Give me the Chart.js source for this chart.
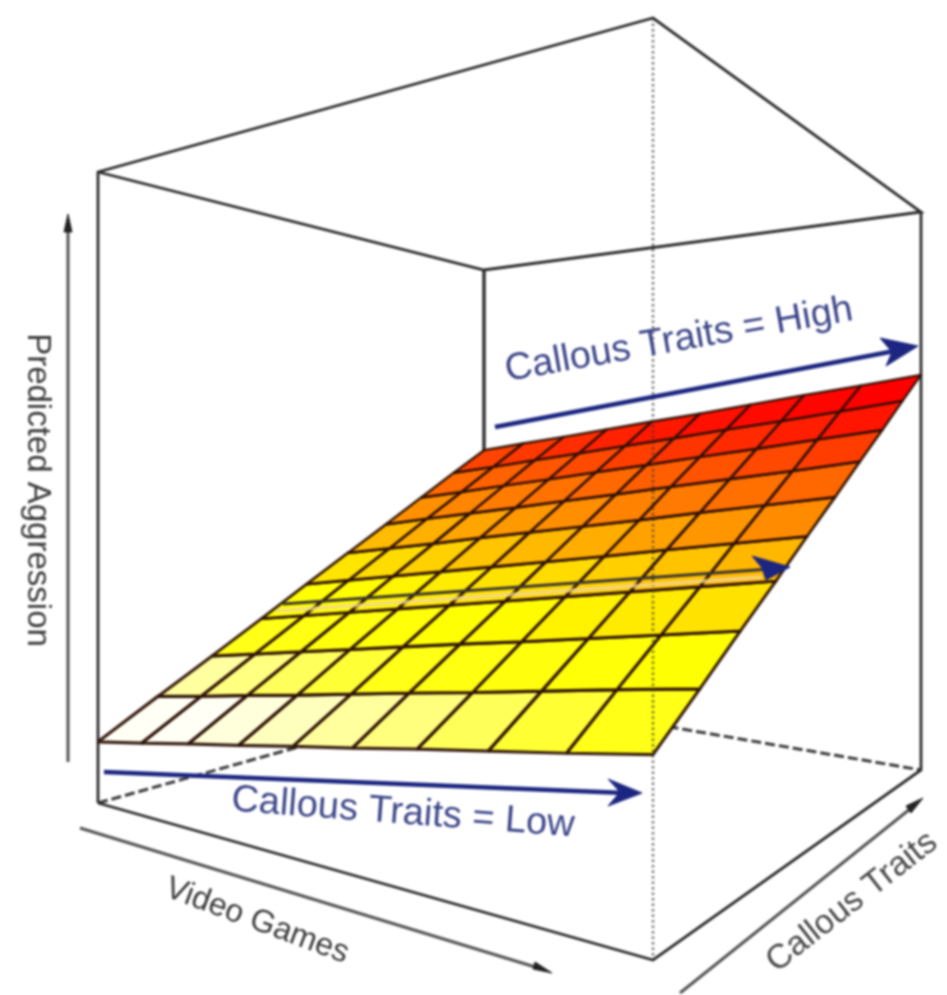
<!DOCTYPE html>
<html>
<head>
<meta charset="utf-8">
<title>Predicted Aggression surface</title>
<script src="https://cdn.jsdelivr.net/npm/chart.js@4/dist/chart.umd.js"></script>
<style>
html,body{margin:0;padding:0;background:#fff;width:947px;height:995px;overflow:hidden}
canvas{display:block;filter:blur(1px)}
</style>
</head>
<body>
<canvas id="c" width="947" height="995"></canvas>
<script>
// ---- data: predicted aggression (share of box height) by callous traits (rows) and video games (columns)
const videoGames = [0,1,2,3,4,5,6,7,8,9];
const callousTraits = [0,1,2,3,4,5,6,7,8,9];
const predictedAggression = [
 [.097,.110,.124,.137,.151,.164,.178,.191,.204,.218],
 [.150,.163,.177,.190,.204,.218,.231,.245,.259,.272],
 [.202,.216,.230,.244,.258,.272,.285,.299,.313,.327],
 [.255,.269,.283,.297,.311,.325,.339,.353,.367,.381],
 [.309,.323,.337,.351,.365,.379,.393,.408,.422,.436],
 [.362,.376,.390,.405,.419,.433,.447,.462,.476,.490],
 [.415,.430,.444,.458,.473,.487,.502,.516,.530,.545],
 [.469,.483,.498,.512,.527,.541,.556,.570,.585,.599],
 [.523,.537,.552,.566,.581,.595,.610,.624,.639,.654],
 [.576,.591,.605,.620,.635,.649,.664,.679,.693,.708]
];
const axisTitles = ["Video Games","Callous Traits","Predicted Aggression"];
const arrowLabels = ["Callous Traits = High","Callous Traits = Low"];

// ---- colour ramp of the surface
const rampStops = [.145,.17,.20,.235,.30,.36,.41,.46,.52,.56,.62,.67];
const rampColors = [[255,255,245],[255,255,190],[255,255,120],[255,255,24],[255,255,0],[255,218,0],
  [255,176,0],[255,136,0],[255,96,0],[255,64,0],[255,20,0],[255,0,0]];
function heat(z){
  if(z<=rampStops[0]) return 'rgb('+rampColors[0]+')';
  for(let i=1;i<rampStops.length;i++){
    if(z<=rampStops[i]){
      const t=(z-rampStops[i-1])/(rampStops[i]-rampStops[i-1]);
      const c=rampColors[i].map((v,k)=>Math.round(rampColors[i-1][k]+(v-rampColors[i-1][k])*t));
      return 'rgb('+c+')';
    }
  }
  return 'rgb('+rampColors[rampColors.length-1]+')';
}

// ---- perspective box: corners in order (low,low) (high,low) (high,high) (low,high)
const boxX = [98,653,921,484];
const boxBase = [803,960,770,695];
const boxTop = [172,18,212,270];
const boxW = [1,.6759,1.1447,1.4688];
function bil(c,u,v){return c[0]*(1-u)*(1-v)+c[1]*u*(1-v)+c[2]*u*v+c[3]*(1-u)*v;}
function project(u,v,z){
  const w=bil(boxW,u,v);
  const X=bil(boxX.map((x,i)=>x*boxW[i]),u,v)/w;
  const y0=bil(boxBase.map((y,i)=>y*boxW[i]),u,v);
  const y1=bil(boxTop.map((y,i)=>y*boxW[i]),u,v);
  return {x:X,y:(y0+(y1-y0)*z)/w};
}
const gu=i=>videoGames[i]/videoGames[videoGames.length-1];
const gv=j=>callousTraits[j]/callousTraits[callousTraits.length-1];
const sp=(i,j)=>project(gu(i),gv(j),predictedAggression[j][i]);

const datasets=[];
function line(data,o){
  datasets.push(Object.assign({data,showLine:true,pointRadius:0,pointHoverRadius:0,fill:false,tension:0,
    borderCapStyle:'butt',borderJoinStyle:'miter',borderColor:'#333',borderWidth:2,order:50},o));
}
const C=(u,v,z)=>project(u,v,z);

// hidden base edges, behind the surface
line([C(0,0,0),C(0,1,0),C(1,1,0)],{borderColor:'#3c3c3c',borderWidth:3,borderDash:[10,4],order:90});
// visible box edges
line([C(0,1,1),C(0,1,0)],{borderColor:'#333',borderWidth:3.5,order:90});
line([C(0,0,0),C(0,0,1),C(1,0,1),C(1,1,1),C(0,1,1),C(0,0,1)],{borderColor:'#2c2c2c',borderWidth:2.8,order:80});
line([C(1,1,1),C(1,1,0),C(1,0,0),C(0,0,0)],{borderColor:'#2c2c2c',borderWidth:2.8,order:80});

// surface cells
for(let j=0;j<callousTraits.length-1;j++){
  for(let i=0;i<videoGames.length-1;i++){
    const z=(predictedAggression[j][i]+predictedAggression[j][i+1]+predictedAggression[j+1][i]+predictedAggression[j+1][i+1])/4;
    const col=heat(z);
    line([sp(i,j),sp(i+1,j),sp(i+1,j+1),sp(i,j+1),sp(i,j)],{
      backgroundColor:col,fill:'shape',borderColor:'rgba(40,12,0,0.92)',
      borderWidth:3.2-1.0*gv(j),borderJoinStyle:'round',order:60-j});
  }
}

// front vertical, dotted and seen through the surface
line([C(1,0,1),C(1,0,0)],{borderColor:'rgba(50,50,50,0.65)',borderWidth:2.5,borderDash:[2.5,3],order:30});

// ---- overlay arrows
const navy='#1c2680';
function arrow(shaft,head,width,color){
  line(shaft,{borderColor:color,borderWidth:width,order:20});
  line(head.concat([head[0]]),{borderColor:navy,backgroundColor:navy,borderWidth:1,fill:'shape',order:10});
}
const P=(x,y)=>({x,y});
arrow([P(495,427),P(905,349)],[P(918,346),P(880,338),P(892,352),P(886,366)],4.5,navy);
arrow([P(104,772),P(625,793)],[P(642,793),P(608,779),P(620,792),P(608,806)],4.5,navy);
line([P(276,611),P(762,577)],{borderColor:'rgba(240,215,150,0.75)',borderWidth:4,order:22});
arrow([P(283,604),P(770,569)],[P(790,567),P(752,556),P(762,568),P(766,580)],3,'#3a3630');

// axis arrows
const grey='#555';
function axis(a,b,h){
  line([a,b],{borderColor:grey,borderWidth:3,order:25});
  line(h.concat([h[0]]),{borderColor:'#222',backgroundColor:'#222',borderWidth:1,fill:'shape',order:24});
}
axis(P(80,828),P(545,970),[P(552,973),P(535,962),P(533,969)]);
axis(P(680,993),P(915,805),[P(923,798),P(906,806),P(911,813)]);
axis(P(68,762),P(68,225),[P(68,214),P(64,232),P(72,232)]);

// ---- text labels: centre x, centre y, angle in degrees, size, colour
const labels=[
 {t:arrowLabels[0],x:679,y:340,a:-10,s:38,c:'#3c4688'},
 {t:arrowLabels[1],x:403,y:813,a:4.3,s:38,c:'#3c4688'},
 {t:axisTitles[0],x:257,y:921,a:20.5,s:32,c:'#3c3c3c'},
 {t:axisTitles[1],x:852,y:902,a:-38,s:34,c:'#4a4a4a'},
 {t:axisTitles[2],x:37,y:490,a:90,s:33,c:'#3c3c3c'}
];
const textPlugin={id:'labels',afterDatasetsDraw(chart){
  const ctx=chart.ctx,sx=chart.scales.x,sy=chart.scales.y;
  labels.forEach(l=>{
    ctx.save();
    ctx.translate(sx.getPixelForValue(l.x),sy.getPixelForValue(l.y));
    ctx.rotate(l.a*Math.PI/180);
    ctx.font=l.s+'px "Liberation Sans"';
    ctx.fillStyle=l.c;ctx.textAlign='center';ctx.textBaseline='middle';
    ctx.fillText(l.t,0,0);
    ctx.restore();
  });
}};
const bg={id:'bg',beforeDraw(chart){const c=chart.ctx;c.save();c.fillStyle='#fff';c.fillRect(0,0,chart.width,chart.height);c.restore();}};

new Chart(document.getElementById('c'),{
  type:'scatter',
  data:{datasets},
  options:{
    responsive:false,animation:false,events:[],
    layout:{padding:0},
    clip:false,
    plugins:{legend:{display:false},title:{display:false},tooltip:{enabled:false}},
    scales:{
      x:{type:'linear',min:0,max:947,display:false},
      y:{type:'linear',min:0,max:995,reverse:true,display:false}
    }
  },
  plugins:[bg,textPlugin]
});
</script>
</body>
</html>
